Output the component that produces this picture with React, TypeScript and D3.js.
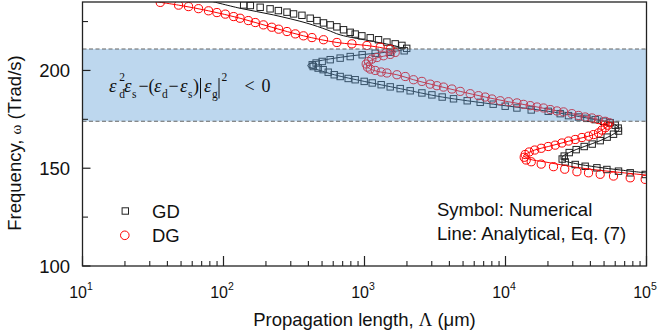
import * as d3 from 'd3';

// numerical results, [omega (Trad/s), propagation length (um)]
const gdNumerical: [number, number][] = [
  [233.5, 139], [233.2, 155], [232.3, 182], [231.5, 214], [230.6, 245], [229.8, 282], [228.9, 314],
  [228.2, 360], [226.7, 412], [225.5, 460], [224.3, 512], [223.3, 571], [222.3, 637], [220.8, 710],
  [219.5, 792], [218.6, 859], [217.7, 958], [216.7, 1098], [215.7, 1257], [214.5, 1442], [213.6, 1651],
  [212.8, 1842], [211.3, 1992], [210.05, 1912], [209.3, 1522], [208.8, 1191], [208.0, 963], [207.1, 792],
  [206.3, 672], [205.5, 571], [204.6, 501], [203.8, 454], [202.9, 426], [202.0, 433], [201.2, 469],
  [200.4, 509], [199.1, 553], [197.8, 610], [196.9, 672], [195.9, 766], [195.25, 859], [194.4, 995],
  [193.6, 1134], [192.7, 1313], [191.6, 1522], [190.7, 1791], [189.6, 2109], [188.5, 2553], [187.5, 3006],
  [186.4, 3556], [185.5, 4279], [184.5, 5351], [183.7, 6616], [182.75, 8180], [181.7, 9950], [180.8, 12050],
  [179.8, 15220], [179.1, 20090], [177.9, 24430], [176.9, 27980], [176.2, 32940], [175.5, 37790],
  [174.85, 43270], [174.0, 49550], [173.3, 55290], [172.0, 59980], [170.5, 62990], [169.0, 63300],
  [167.4, 58340], [165.9, 52620], [164.1, 46950], [162.35, 41210], [161.1, 36150], [159.5, 31720],
  [158.0, 28300], [156.2, 26090], [154.7, 25250], [153.2, 26510], [151.9, 31210], [151.0, 36740],
  [150.2, 44480], [149.35, 52360], [148.5, 63300], [147.65, 76630], [146.8, 97900],
];

const dgNumerical: [number, number][] = [
  [234.8, 35.6], [233.4, 48], [232.65, 56.5], [231.6, 66.5], [230.5, 78.3], [229.6, 89.8], [228.8, 103],
  [227.55, 118], [226.7, 131], [225.5, 150], [224.5, 168], [223.3, 192], [222.1, 220], [221.1, 246],
  [219.9, 282], [218.7, 323], [217.7, 369], [216.8, 424], [215.7, 512], [214.3, 637], [213.6, 814],
  [212.75, 1040], [211.9, 1292], [210.9, 1522], [209.2, 1651], [208.2, 1522], [207.5, 1364], [206.6, 1224],
  [205.8, 1128], [204.6, 1067], [203.3, 1028], [201.7, 1050], [200.7, 1098], [200.0, 1191], [199.2, 1313],
  [198.7, 1442], [197.8, 1698], [196.9, 1945], [195.25, 2226], [194.4, 2553], [193.0, 2924], [192.2, 3262],
  [191.5, 3634], [190.5, 4169], [189.3, 4772], [188.1, 5618], [187.1, 6435], [186.4, 7178], [185.4, 8010],
  [184.5, 9172], [184.0, 10500], [183.4, 12050], [182.65, 13420], [182.0, 14970], [181.3, 16700],
  [180.8, 18600], [180.0, 20750], [179.3, 23150], [178.8, 25790], [177.9, 29570], [177.0, 32940],
  [176.2, 36740], [175.7, 41010], [174.9, 45670], [174.0, 50950], [173.3, 54390], [172.0, 53070],
  [170.7, 50950], [169.5, 48280], [168.05, 45670], [167.2, 42090], [166.4, 38800], [165.7, 34830],
  [164.7, 31210], [163.9, 27980], [162.9, 25110], [161.8, 22520], [161.1, 20090], [160.2, 17920],
  [159.3, 16110], [158.3, 14720], [157.0, 13790], [155.6, 13570], [154.2, 14020], [153.3, 15220],
  [152.1, 17920], [150.8, 21900], [149.5, 26300], [148.2, 32100], [147.65, 38800], [146.9, 46950],
  [146.0, 58340], [145.1, 76630], [144.3, 97900],
];

// analytical, Eq. (7)
const gdAnalytical: [number, number][] = [
  [235.8, 77.9], [231.8, 131], [228.4, 226], [224.2, 390], [220.8, 541], [218.2, 672], [214.8, 1158],
  [212.3, 1697], [210.8, 1882], [209.8, 1651], [209.0, 1292], [208.0, 932], [206.7, 672], [205.2, 501],
  [203.9, 419], [202.65, 396], [201.6, 405], [200.6, 454], [197.8, 610], [194.4, 995], [190.7, 1791],
  [186.4, 3556], [182.75, 8180], [179.1, 20090], [174.85, 43270], [172.6, 59020], [170.0, 64030],
  [167.7, 59020], [164.1, 46950], [161.1, 36150], [158.0, 28300], [155.7, 25250], [154.2, 25660],
  [152.4, 31210], [150.6, 44480], [149.1, 65100], [147.6, 99500],
];

const dgAnalytical: [number, number][] = [
  [235.8, 28.8], [233.4, 48], [230.5, 78.3], [226.7, 131], [222.1, 220], [217.7, 369], [214.3, 637],
  [212.75, 1040], [211.5, 1350], [210.3, 1600], [209.5, 1678], [208.0, 1500], [206.5, 1230],
  [205.0, 1100], [203.5, 1035], [202.0, 1040], [200.6, 1110], [199.3, 1280], [197.8, 1698],
  [195.25, 2226], [192.2, 3262], [189.3, 4772], [186.4, 7178], [184.0, 10500], [182.0, 14970],
  [180.0, 20750], [177.9, 29570], [175.7, 41010], [174.0, 50950], [173.0, 54800], [171.8, 53500],
  [169.5, 48280], [167.2, 42090], [164.7, 31210], [162.9, 25110], [161.1, 20090], [159.3, 16110],
  [157.8, 14400], [156.5, 13420], [154.7, 14740], [153.2, 19120], [151.4, 26510], [149.6, 38590],
  [148.1, 59980], [146.5, 99500],
];

const bandRange = [174, 211];
const xMajor = [10, 100, 1000, 10000, 100000];
const yMajor = [100, 150, 200];
const yMinor = [125, 175, 225];

const W = 664;
const H = 331;
const plot = { left: 82.5, right: 646.5, top: 2, bottom: 266 };
const sans = 'Liberation Sans, Arial, sans-serif';
const serif = 'Liberation Serif, Times New Roman, serif';

export default function App() {
  const x = d3.scaleLog().domain([10, 1e5]).range([plot.left, plot.right]);
  const y = d3.scaleLinear().domain([100, 235]).range([plot.bottom, plot.top]);

  const line = d3
    .line<[number, number]>()
    .x((d) => x(d[1]))
    .y((d) => y(d[0]))
    .curve(d3.curveCatmullRom.alpha(0.5));

  const minorX = x.ticks().filter((t) => !xMajor.includes(t));
  const sq = 6.4;

  return (
    <svg
      width={W}
      height={H}
      style={{ position: 'absolute', left: 0, top: 0, background: '#fff' }}
      fontFamily={sans}
    >
      <defs>
        <clipPath id="plotArea">
          <rect x={plot.left} y={plot.top} width={plot.right - plot.left} height={plot.bottom - plot.top} />
        </clipPath>
      </defs>

      {/* data */}
      <g clipPath="url(#plotArea)">
        <path d={line(gdAnalytical) ?? ''} fill="none" stroke="#111" strokeWidth={1} />
        <path d={line(dgAnalytical) ?? ''} fill="none" stroke="#f00" strokeWidth={1} />
        {gdNumerical.map((d, i) => (
          <rect
            key={'g' + i}
            x={x(d[1]) - sq / 2}
            y={y(d[0]) - sq / 2}
            width={sq}
            height={sq}
            fill="none"
            stroke="#222"
            strokeWidth={1}
          />
        ))}
        {dgNumerical.map((d, i) => (
          <circle key={'d' + i} cx={x(d[1])} cy={y(d[0])} r={4.1} fill="none" stroke="#f00" strokeWidth={1} />
        ))}
      </g>

      {/* shaded region */}
      <rect
        x={plot.left}
        y={y(bandRange[1])}
        width={plot.right - plot.left}
        height={y(bandRange[0]) - y(bandRange[1])}
        fill="#5b9bd5"
        fillOpacity={0.4}
      />
      {bandRange.map((b) => (
        <line
          key={b}
          x1={plot.left}
          x2={plot.right}
          y1={y(b)}
          y2={y(b)}
          stroke="#666"
          strokeWidth={1.1}
          strokeDasharray="4 2.5"
        />
      ))}

      {/* frame */}
      <rect
        x={plot.left}
        y={plot.top}
        width={plot.right - plot.left}
        height={plot.bottom - plot.top}
        fill="none"
        stroke="#222"
        strokeWidth={1.3}
      />

      {/* x ticks */}
      {xMajor.map((t) => (
        <g key={t}>
          <line x1={x(t)} x2={x(t)} y1={plot.bottom} y2={plot.bottom - 10} stroke="#222" strokeWidth={1.2} />
          <text x={x(t) - 1.5} y={297.5} textAnchor="middle" fontSize={16} fill="#111">
            10
            <tspan dy={-7.5} fontSize={10.5}>
              {Math.round(Math.log10(t))}
            </tspan>
          </text>
        </g>
      ))}
      {minorX.map((t) => (
        <line key={t} x1={x(t)} x2={x(t)} y1={plot.bottom} y2={plot.bottom - 5} stroke="#222" strokeWidth={1.1} />
      ))}

      {/* y ticks */}
      {yMajor.map((t) => (
        <g key={t}>
          <line x1={plot.left} x2={plot.left + 8} y1={y(t)} y2={y(t)} stroke="#222" strokeWidth={1.2} />
          <text x={70} y={y(t) + 6.5} textAnchor="end" fontSize={18.5} fill="#111">
            {t}
          </text>
        </g>
      ))}
      {yMinor.map((t) => (
        <line key={t} x1={plot.left} x2={plot.left + 5.5} y1={y(t)} y2={y(t)} stroke="#222" strokeWidth={1.1} />
      ))}

      {/* axis titles */}
      <text x={364.5} y={326} textAnchor="middle" fontSize={18.5} fill="#111">
        Propagation length, <tspan fontFamily={serif}>Λ</tspan> (μm)
      </text>
      <text transform="translate(21,143) rotate(-90)" textAnchor="middle" fontSize={18.5} fill="#111">
        Frequency, <tspan fontFamily={serif} fontSize={15}>ω</tspan> (Trad/s)
      </text>

      {/* condition */}
      <g fontFamily={serif} fill="#111">
        <text x={109} y={92} fontSize={19} fontStyle="italic">ε</text>
        <text x={119.3} y={80.5} fontSize={11.5}>2</text>
        <text x={119.3} y={97.5} fontSize={11.5}>d</text>
        <text x={124} y={92} fontSize={19} fontStyle="italic">ε</text>
        <text x={132} y={97.5} fontSize={11.5}>s</text>
        <text x={138.5} y={92} fontSize={18}>−</text>
        <text x={148.5} y={92} fontSize={18}>(</text>
        <text x={154} y={92} fontSize={19} fontStyle="italic">ε</text>
        <text x={162} y={97.5} fontSize={11.5}>d</text>
        <text x={168.5} y={92} fontSize={18}>−</text>
        <text x={180} y={92} fontSize={19} fontStyle="italic">ε</text>
        <text x={188} y={97.5} fontSize={11.5}>s</text>
        <text x={193} y={92} fontSize={18}>)</text>
        <line x1={200.5} x2={200.5} y1={78} y2={98.5} stroke="#111" strokeWidth={1} />
        <text x={204} y={92} fontSize={19} fontStyle="italic">ε</text>
        <text x={212} y={97.5} fontSize={11.5}>g</text>
        <line x1={219} x2={219} y1={78} y2={98.5} stroke="#111" strokeWidth={1} />
        <text x={221.5} y={80.5} fontSize={11.5}>2</text>
        <text x={244.5} y={92} fontSize={18}>&lt;</text>
        <text x={261.5} y={92} fontSize={18}>0</text>
      </g>

      {/* legend */}
      <rect x={125.3 - sq / 2} y={211 - sq / 2} width={sq} height={sq} fill="none" stroke="#222" strokeWidth={1} />
      <text x={152} y={217.5} fontSize={18.5} fill="#111">GD</text>
      <circle cx={124.8} cy={235.3} r={4.3} fill="none" stroke="#f00" strokeWidth={1} />
      <text x={152} y={241.7} fontSize={18.5} fill="#111">DG</text>

      <text x={437} y={215.5} fontSize={18.5} fill="#111">Symbol: Numerical</text>
      <text x={437} y={239.5} fontSize={18.5} fill="#111">Line: Analytical, Eq. (7)</text>
    </svg>
  );
}
